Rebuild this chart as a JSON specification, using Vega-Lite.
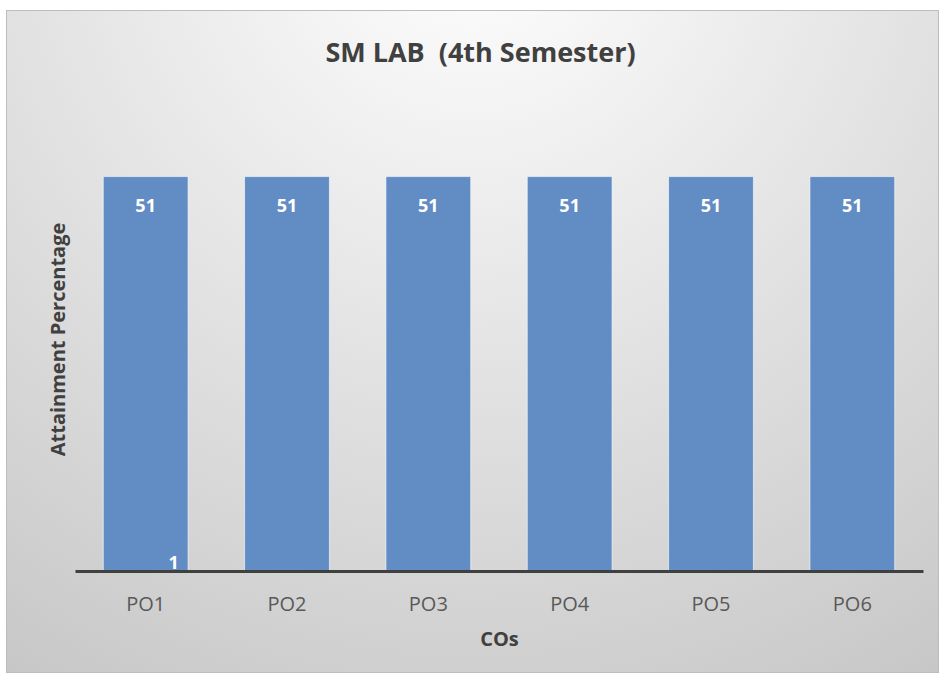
{
  "$schema": "https://vega.github.io/schema/vega-lite/v6.json",
  "autosize": "none",
  "width": 931,
  "height": 661,
  "padding": {"left": 7, "top": 11, "right": 3, "bottom": 4},
  "background": "#ffffff",
  "config": {
    "view": {"stroke": "#bdbdbd", "strokeWidth": 2},
    "font": "Open Sans"
  },
  "title": {
    "text": "SM LAB\u00a0 (4th Semester)",
    "fontSize": 27,
    "fontWeight": "bold",
    "color": "#404040",
    "font": "Open Sans",
    "anchor": "middle",
    "baseline": "top",
    "offset": -57,
    "dx": 8
  },
  "datasets": {
    "bars": [
      {"PO": "PO1", "value": 51},
      {"PO": "PO2", "value": 51},
      {"PO": "PO3", "value": 51},
      {"PO": "PO4", "value": 51},
      {"PO": "PO5", "value": 51},
      {"PO": "PO6", "value": 51}
    ],
    "stray": [
      {"PO": "PO1", "value": 0, "label": "1"}
    ],
    "bg": [{"k": 1}]
  },
  "layer": [
    {
      "data": {"name": "bg"},
      "mark": {
        "type": "rect",
        "fill": {
          "gradient": "radial",
          "x1": 0.5, "y1": 0.05, "r1": 0,
          "x2": 0.5, "y2": 0.05, "r2": 1,
          "stops": [
            {"offset": 0, "color": "#ffffff"},
            {"offset": 1, "color": "#c4c4c4"}
          ]
        },
        "stroke": null
      },
      "encoding": {}
    },
    {
      "data": {"name": "bars"},
      "mark": {"type": "bar", "fill": "#628cc4", "stroke": "#ffffff", "strokeOpacity": 0.6, "strokeWidth": 1},
      "encoding": {
        "x": {
          "field": "PO", "type": "nominal",
          "scale": {"range": [68, 916], "paddingInner": 0.4, "paddingOuter": 0.2},
          "axis": {
            "zindex": 1,
            "title": "COs",
            "titleFontSize": 20,
            "titleFontWeight": "bold",
            "titleColor": "#404040",
            "titleFont": "Open Sans",
            "titlePadding": 15,
            "labelFontSize": 20,
            "labelColor": "#595959",
            "labelFont": "Open Sans",
            "labelAngle": 0,
            "labelPadding": 23,
            "ticks": false,
            "domainColor": "#404040",
            "domainWidth": 3,
            "grid": false,
            "offset": -101
          }
        },
        "y": {
          "field": "value", "type": "quantitative",
          "scale": {"domain": [0, 60], "range": [560, 96], "nice": false},
          "axis": {
            "zindex": 1,
            "title": "Attainment Percentage",
            "titleFontSize": 20,
            "titleFontWeight": "bold",
            "titleColor": "#404040",
            "titleFont": "Open Sans",
            "labels": false,
            "ticks": false,
            "domain": false,
            "grid": false,
            "offset": -63,
            "titlePadding": 2
          }
        }
      }
    },
    {
      "data": {"name": "bars"},
      "mark": {"type": "text", "color": "#ffffff", "fontWeight": "bold", "fontSize": 18, "font": "Open Sans", "baseline": "middle", "dy": 30},
      "encoding": {
        "x": {"field": "PO", "type": "nominal"},
        "y": {"field": "value", "type": "quantitative"},
        "text": {"field": "value", "type": "quantitative"}
      }
    },
    {
      "data": {"name": "stray"},
      "mark": {"type": "text", "color": "#ffffff", "fontWeight": "bold", "fontSize": 18, "font": "Open Sans", "baseline": "bottom", "dx": 28, "dy": 2},
      "encoding": {
        "x": {"field": "PO", "type": "nominal"},
        "y": {"field": "value", "type": "quantitative"},
        "text": {"field": "label", "type": "nominal"}
      }
    }
  ]
}
